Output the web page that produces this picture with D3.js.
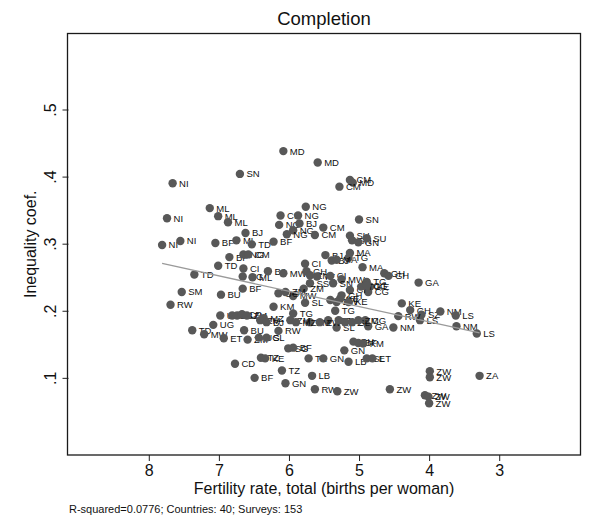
<!DOCTYPE html>
<html>
<head>
<meta charset="utf-8">
<script src="https://cdn.jsdelivr.net/npm/d3@7"></script>
<style>
  html, body { margin: 0; padding: 0; background: #fff; }
  svg { display: block; font-family: "Liberation Sans", Arial, Helvetica, sans-serif; }
</style>
</head>
<body>
<script>
// Survey country codes, total fertility rate and completion inequality coefficient
const countryCodes = ["MD","MD","SN","NI","CM","MD","CM","NG","ML","ML","NI","CI","NG","SN","ML","NG","BJ","CM","NG","NG",
  "CM","BJ","SU","SN","GN","SU","NI","NI","BF","ML","TD","BF","BF","NG","CM","BJ","MA","TG","BJ","MA",
  "MA","GH","GH","GA","TD","CI","NG","ML","BJ","MW","CI","GH","ZM","TZ","CI","MW","TG","KE","CG","SN",
  "CI","SS","ZM","BF","TD","SM","BU","RW","MW","UG","ZM","SL","ZW","ZW","KE","KE","GH","KM","TG","TG",
  "CG","GA","NM","SL","TZ","RW","UG","UG","BU","CF","ZM","ZM","MZ","BJ","UG","TD","MW","ET","BU","ZM",
  "UG","SL","CD","TZ","KE","BF","SG","BF","TZ","GN","GN","GH","BF","KM","LB","SL","ET","TZ","LB","GN",
  "RW","ZW","ZW","KE","GH","SZ","LS","RW","NM","LS","NM","LS","ZW","ZW","ZA","ZW","ZW","ZW","ZM","ZW",
  "ZM","TZ","SL","ZM","ZM","MZ","TG","CG"];

const fertility = [6.08,5.59,6.70,7.66,5.13,5.09,5.28,5.76,7.13,7.01,7.74,6.12,5.87,5.00,6.87,6.14,5.85,5.51,5.94,6.03,
  5.63,6.62,5.13,5.10,5.01,4.89,7.81,7.55,7.05,6.75,6.53,6.22,6.85,6.65,6.58,5.48,5.13,5.15,5.39,5.32,
  4.95,4.64,4.58,4.15,7.01,6.65,6.66,6.52,6.30,6.08,5.77,5.75,5.70,5.60,5.41,5.25,4.89,4.84,4.87,5.37,
  5.13,5.70,5.79,6.66,7.35,7.53,6.97,7.69,5.94,6.15,6.05,5.77,5.41,5.32,5.27,5.15,5.25,6.22,5.94,5.34,
  4.91,4.87,4.51,5.32,5.44,6.15,6.98,6.81,6.74,6.67,6.60,6.41,6.36,6.32,7.08,7.38,7.21,6.93,6.64,6.59,
  6.43,6.32,6.77,6.40,6.34,6.49,6.01,5.94,5.72,5.51,5.21,5.08,5.01,4.94,5.15,4.89,4.81,6.10,5.67,6.05,
  5.63,5.31,4.56,4.39,4.27,4.11,4.13,4.44,3.84,3.62,3.61,3.32,3.99,3.99,3.28,4.06,4.01,4.00,5.70,5.56,
  5.29,5.20,5.10,5.01,5.98,5.90,4.97,4.89];

const inequality = [0.438,0.421,0.404,0.390,0.395,0.391,0.385,0.355,0.353,0.341,0.338,0.342,0.342,0.336,0.332,0.328,0.330,0.324,0.320,0.314,
  0.313,0.316,0.312,0.305,0.302,0.308,0.298,0.304,0.301,0.305,0.299,0.303,0.280,0.284,0.284,0.283,0.286,0.279,0.275,0.276,
  0.265,0.256,0.252,0.242,0.267,0.263,0.251,0.250,0.259,0.256,0.270,0.259,0.253,0.251,0.252,0.247,0.243,0.236,0.228,0.241,
  0.231,0.241,0.233,0.233,0.254,0.228,0.224,0.209,0.222,0.226,0.228,0.212,0.216,0.213,0.218,0.213,0.223,0.206,0.196,0.200,
  0.186,0.177,0.175,0.175,0.186,0.170,0.193,0.193,0.193,0.195,0.193,0.186,0.189,0.183,0.179,0.171,0.165,0.159,0.171,0.157,
  0.160,0.160,0.121,0.130,0.129,0.100,0.144,0.145,0.129,0.129,0.141,0.154,0.152,0.151,0.124,0.129,0.129,0.111,0.103,0.092,
  0.083,0.080,0.083,0.211,0.201,0.194,0.186,0.192,0.199,0.193,0.177,0.166,0.110,0.101,0.103,0.074,0.072,0.062,0.183,0.183,
  0.186,0.183,0.183,0.186,0.186,0.183,0.236,0.238];

// Linear fit end points (over the observed fertility range)
const fitFertility = [7.81, 3.28];
const fitInequality = [0.2705, 0.167];

const xTicks = [8, 7, 6, 5, 4, 3];
const yTicks = [0.1, 0.2, 0.3, 0.4, 0.5];

const titleText = "Completion";
const xTitle = "Fertility rate, total (births per woman)";
const yTitle = "Inequality coef.";
const noteText = "R-squared=0.0776; Countries: 40; Surveys: 153";

const W = 591, H = 519;
const frame = { left: 67.5, right: 580.5, top: 33.5, bottom: 455 };

const svg = d3.select("body").append("svg").attr("width", W).attr("height", H);
svg.append("rect").attr("width", W).attr("height", H).attr("fill", "#fff");

// Fertility axis runs high to low
const x = d3.scaleLinear().domain([9.16, 1.84]).range([frame.left, frame.right]);
const y = d3.scaleLinear().domain([-0.015, 0.6133]).range([frame.bottom, frame.top]);

// Title
svg.append("text")
  .attr("x", (frame.left + frame.right) / 2).attr("y", 25)
  .attr("text-anchor", "middle").attr("font-size", 18.5).attr("fill", "#111")
  .text(titleText);

// X axis
const gx = svg.append("g").attr("transform", `translate(0,${frame.bottom})`)
  .call(d3.axisBottom(x).tickValues(xTicks).tickSize(6).tickPadding(4).tickFormat(d3.format("d")));
gx.select(".domain").remove();
gx.selectAll(".tick line").attr("stroke", "#222");
gx.selectAll(".tick text").attr("font-size", 16).attr("fill", "#111").attr("font-family", null);

// Y axis, labels turned vertical
const gy = svg.append("g").attr("transform", `translate(${frame.left + 1},0)`)
  .call(d3.axisLeft(y).tickValues(yTicks).tickSize(6)
    .tickFormat(d => d3.format(".1f")(d).replace(/^0/, "")));
gy.select(".domain").remove();
gy.selectAll(".tick line").attr("stroke", "#222");
gy.selectAll(".tick text")
  .attr("font-size", 16).attr("fill", "#111").attr("font-family", null)
  .attr("x", 0).attr("dy", 0)
  .attr("text-anchor", "middle")
  .attr("transform", "translate(-13,0) rotate(-90)");

// Axis titles
svg.append("text")
  .attr("x", (frame.left + frame.right) / 2).attr("y", 494)
  .attr("text-anchor", "middle").attr("font-size", 16).attr("fill", "#111")
  .text(xTitle);
svg.append("text")
  .attr("transform", `translate(36,${(frame.top + frame.bottom) / 2}) rotate(-90)`)
  .attr("text-anchor", "middle").attr("font-size", 16).attr("fill", "#111")
  .text(yTitle);

// Note under the axis title
svg.append("text")
  .attr("x", 69).attr("y", 512.5)
  .attr("font-size", 11).attr("fill", "#111")
  .text(noteText);

// Labelled survey points
const pts = countryCodes.map((c, i) => ({ code: c, fx: fertility[i], iq: inequality[i] }));
const g = svg.append("g");
const pg = g.selectAll("g.pt").data(pts).join("g").attr("class", "pt")
  .attr("transform", d => `translate(${x(d.fx)},${y(d.iq)})`);
pg.append("circle").attr("r", 4.2).attr("fill", "#585858");
pg.append("text")
  .attr("x", 6.5).attr("dy", "0.36em")
  .attr("font-size", 9.5).attr("fill", "#111")
  .text(d => d.code);

// Fitted line
svg.append("path")
  .datum(fitFertility.map((f, i) => [f, fitInequality[i]]))
  .attr("fill", "none").attr("stroke", "#9a9a9a").attr("stroke-width", 1.3)
  .attr("d", d3.line().x(d => x(d[0])).y(d => y(d[1])));

// Plot frame
svg.append("rect")
  .attr("x", frame.left).attr("y", frame.top)
  .attr("width", frame.right - frame.left).attr("height", frame.bottom - frame.top)
  .attr("fill", "none").attr("stroke", "#1a1a1a").attr("stroke-width", 1.3);
</script>
</body>
</html>
